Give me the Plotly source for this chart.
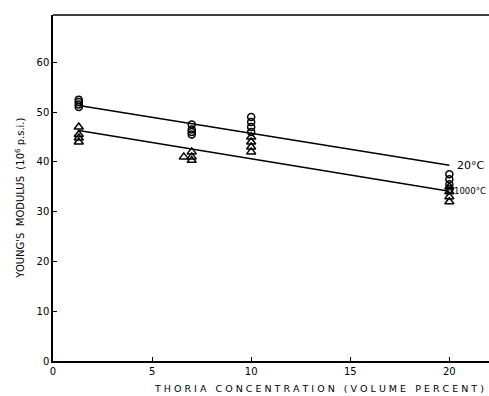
import plotly.graph_objects as go

# Data
conc_20 = [1.3, 1.3, 1.3, 1.3, 7, 7, 7, 7, 10, 10, 10, 10, 20, 20, 20, 20]
mod_20 = [52.5, 52, 51.5, 51, 47.5, 46.5, 46, 45.5, 49, 48, 47, 46, 37.5, 36.5, 35.5, 34.5]
conc_1000 = [1.3, 1.3, 1.3, 1.3, 6.6, 7, 7, 7, 10, 10, 10, 10, 20, 20, 20, 20]
mod_1000 = [47, 45.5, 44.8, 44, 41, 42, 41, 40.3, 45, 44, 43, 42, 35, 34, 33, 32]
fit_x = [1.3, 20]
fit_20 = [51.3, 39.3]
fit_1000 = [46.3, 34.1]
x_ticks = [0, 5, 10, 15, 20]
y_ticks = [0, 10, 20, 30, 40, 50, 60]

FONT = "DejaVu Sans"
fig = go.Figure()
fig.add_trace(go.Scatter(x=fit_x, y=fit_20, mode="lines",
                         line=dict(color="black", width=1.5), showlegend=False))
fig.add_trace(go.Scatter(x=fit_x, y=fit_1000, mode="lines",
                         line=dict(color="black", width=1.5), showlegend=False))
fig.add_trace(go.Scatter(x=conc_20, y=mod_20, mode="markers",
                         marker=dict(symbol="circle-open", size=7, color="black",
                                     line=dict(width=1.5)), showlegend=False))
fig.add_trace(go.Scatter(x=conc_1000, y=mod_1000, mode="markers",
                         marker=dict(symbol="triangle-up-open", size=8, color="black",
                                     line=dict(width=1.5)), showlegend=False))

fig.add_annotation(x=20.3, y=39.3, text="20°C", showarrow=False, xanchor="left",
                   font=dict(family=FONT, size=11, color="black"))
fig.add_annotation(x=20.15, y=34.1, text="1000°C", showarrow=False, xanchor="left",
                   font=dict(family=FONT, size=8.5, color="black"))

fig.add_annotation(xref="paper", yref="paper", x=-0.075, y=0.47, xanchor="center",
                   yanchor="middle", textangle=-90, showarrow=False,
                   text="YOUNG'S  MODULUS  (10<sup>6</sup> p.s.i.)",
                   font=dict(family=FONT, size=10, color="black"))
fig.add_annotation(xref="paper", yref="paper", x=0.61, y=0, yshift=-20, xanchor="center",
                   yanchor="top", showarrow=False,
                   text="T H O R I A   C O N C E N T R A T I O N   ( V O L U M E   P E R C E N T )",
                   font=dict(family=FONT, size=9.5, color="black"))

fig.update_xaxes(range=[0, 22], tickvals=x_ticks, ticks="inside", ticklen=4,
                 showgrid=False, zeroline=False, showline=True, linecolor="black",
                 linewidth=1.5, mirror=False, tickcolor="black",
                 tickfont=dict(family=FONT, size=10, color="black"))
fig.update_yaxes(range=[0, 69.5], tickvals=y_ticks, ticks="inside", ticklen=4,
                 showgrid=False, zeroline=False, showline=True, linecolor="black",
                 linewidth=1.5, tickcolor="black",
                 tickfont=dict(family=FONT, size=10, color="black"))
fig.add_shape(type="line", xref="paper", yref="paper", x0=0, x1=1, y0=1, y1=1,
              line=dict(color="black", width=1.5))

fig.update_layout(width=489, height=396, margin=dict(l=53, r=0, t=15, b=35),
                  plot_bgcolor="white", paper_bgcolor="white")
fig.write_html("out.html")
